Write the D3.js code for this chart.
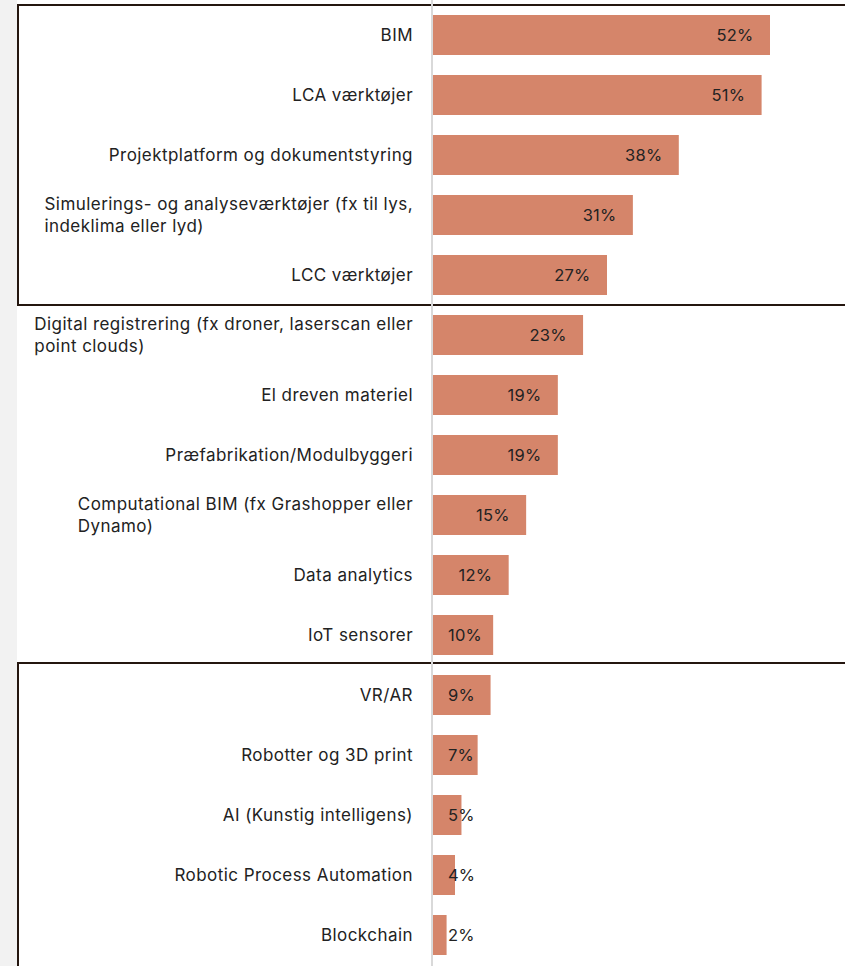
<!DOCTYPE html>
<html>
<head>
<meta charset="utf-8">
<script src="https://cdn.jsdelivr.net/npm/d3@7"></script>
<style>
  html, body { margin: 0; padding: 0; background: #fff; }
  text { font-family: Inter, "DejaVu Sans", sans-serif; fill: #222; }
</style>
</head>
<body>
<div id="chart"></div>
<script>
// chart data
var categories = [
  "BIM",
  "LCA værktøjer",
  "Projektplatform og dokumentstyring",
  "Simulerings- og analyseværktøjer (fx til lys,\nindeklima eller lyd)",
  "LCC værktøjer",
  "Digital registrering (fx droner, laserscan eller\npoint clouds)",
  "El dreven materiel",
  "Præfabrikation/Modulbyggeri",
  "Computational BIM (fx Grashopper eller\nDynamo)",
  "Data analytics",
  "IoT sensorer",
  "VR/AR",
  "Robotter og 3D print",
  "AI (Kunstig intelligens)",
  "Robotic Process Automation",
  "Blockchain"
];
// bar lengths
var values = [52.1, 50.8, 38.0, 30.9, 26.9, 23.2, 19.3, 19.3, 14.4, 11.7, 9.3, 8.9, 6.9, 4.4, 3.4, 2.1];
// printed data labels
var valueLabels = ["52%", "51%", "38%", "31%", "27%", "23%", "19%", "19%", "15%", "12%", "10%", "9%", "7%", "5%", "4%", "2%"];
// rows framed by a box
var boxedGroups = [[0, 4], [11, 15]];

var width = 845,
    height = 966,
    axisX = 433,
    labelRight = 413;

var svg = d3.select("#chart")
  .append("svg")
  .attr("width", width)
  .attr("height", height);

var y = d3.scaleBand()
  .domain(d3.range(categories.length))
  .range([5, 965])
  .paddingInner(1 / 3)
  .paddingOuter(1 / 6);

var x = d3.scaleLinear()
  .domain([0, 52.1])
  .range([axisX, 770]);

// grey strip on the left edge
svg.append("rect")
  .attr("x", 0).attr("y", 0)
  .attr("width", 17).attr("height", height)
  .attr("fill", "#f2f2f2");

// boxes round the groups (the last one runs off the bottom)
svg.selectAll("rect.box")
  .data(boxedGroups).enter()
  .append("rect")
  .attr("class", "box")
  .attr("x", 18)
  .attr("y", function(d) { return y(d[0]) - (d[0] == 0 ? 10 : 12); })
  .attr("width", 900)
  .attr("height", function(d) {
    var top = y(d[0]) - (d[0] == 0 ? 10 : 12);
    var bottom = d[1] == categories.length - 1 ? height + 10 : y(d[1]) + y.bandwidth() + 10;
    return bottom - top;
  })
  .attr("fill", "none")
  .attr("stroke", "#24160f")
  .attr("stroke-width", 2);

// bars
svg.selectAll("rect.bar")
  .data(values).enter()
  .append("rect")
  .attr("class", "bar")
  .attr("x", x(0))
  .attr("y", function(d, i) { return y(i); })
  .attr("width", function(d) { return x(d) - x(0); })
  .attr("height", y.bandwidth())
  .attr("fill", "#d5856a");

// vertical axis line
svg.append("line")
  .attr("x1", axisX - 1).attr("x2", axisX - 1)
  .attr("y1", 0).attr("y2", height)
  .attr("stroke", "#d9d9d9")
  .attr("stroke-width", 2);

// category labels, wrapped ones are left aligned to their longest line
var catLabels = svg.selectAll("text.cat")
  .data(categories).enter()
  .append("text")
  .attr("class", "cat")
  .style("font-size", "17px")
  .style("letter-spacing", "0.45px");

catLabels.each(function(d, i) {
  var lines = d.split("\n");
  var t = d3.select(this);
  var cy = y(i) + y.bandwidth() / 2;
  var lh = 22;
  lines.forEach(function(line, j) {
    t.append("tspan")
      .attr("x", labelRight)
      .attr("y", cy + (j - (lines.length - 1) / 2) * lh)
      .attr("dy", "0.36em")
      .text(line);
  });
  if (lines.length > 1) {
    var maxW = 0;
    t.selectAll("tspan").each(function() {
      maxW = Math.max(maxW, this.getComputedTextLength());
    });
    t.attr("text-anchor", "start");
    t.selectAll("tspan").attr("x", labelRight - maxW);
  } else {
    t.attr("text-anchor", "end");
  }
});

// value labels, inside end of the bar
svg.selectAll("text.val")
  .data(values).enter()
  .append("text")
  .attr("class", "val")
  .style("font-size", "16.5px")
  .style("letter-spacing", "0.2px")
  .attr("y", function(d, i) { return y(i) + y.bandwidth() / 2; })
  .attr("dy", "0.36em")
  .text(function(d, i) { return valueLabels[i]; })
  .attr("x", function(d) {
    var w = this.getComputedTextLength();
    return Math.max(x(d) - 16.5 - w, axisX + 15);
  });
</script>
</body>
</html>
